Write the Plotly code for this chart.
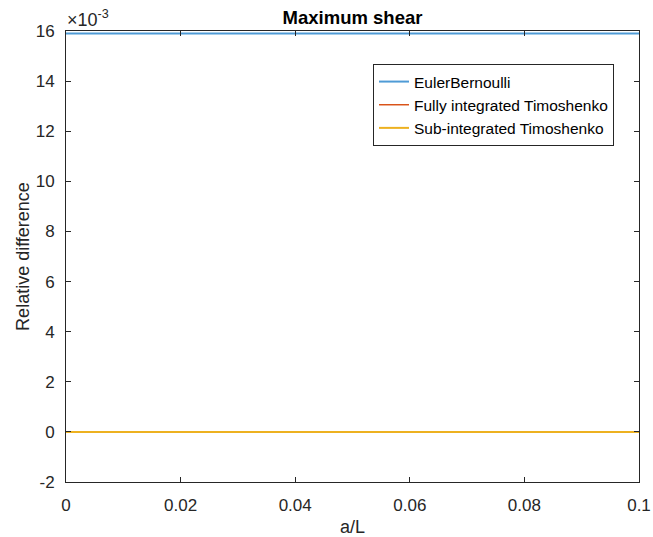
import plotly.graph_objects as go

# a/L values
a_over_L = [0.0, 0.01, 0.02, 0.03, 0.04, 0.05, 0.06, 0.07, 0.08, 0.09, 0.1]
# Relative difference series
euler_bernoulli = [0.0159, 0.0159, 0.0159, 0.0159, 0.0159, 0.0159, 0.0159, 0.0159, 0.0159, 0.0159, 0.0159]
fully_integrated = [0.0, 0.0, 0.0, 0.0, 0.0, 0.0, 0.0, 0.0, 0.0, 0.0, 0.0]
sub_integrated = [0.0, 0.0, 0.0, 0.0, 0.0, 0.0, 0.0, 0.0, 0.0, 0.0, 0.0]

y_tick_vals = [-0.002, 0.0, 0.002, 0.004, 0.006, 0.008, 0.010, 0.012, 0.014, 0.016]
y_tick_text = ["-2", "0", "2", "4", "6", "8", "10", "12", "14", "16"]
x_tick_vals = [0.0, 0.02, 0.04, 0.06, 0.08, 0.1]
x_tick_text = ["0", "0.02", "0.04", "0.06", "0.08", "0.1"]

FONT = "Liberation Sans, Arial, sans-serif"
AX = "#262626"

fig = go.Figure()
fig.add_trace(go.Scatter(x=a_over_L, y=euler_bernoulli, mode="lines",
                         name="EulerBernoulli", line=dict(color="#4f9bd6", width=2)))
fig.add_trace(go.Scatter(x=a_over_L, y=fully_integrated, mode="lines",
                         name="Fully integrated Timoshenko", line=dict(color="#D95319", width=1.5)))
fig.add_trace(go.Scatter(x=a_over_L, y=sub_integrated, mode="lines",
                         name="Sub-integrated Timoshenko", line=dict(color="#EDB120", width=2)))

fig.update_layout(
    width=653, height=537,
    margin=dict(l=66, r=14, t=31, b=55),
    paper_bgcolor="white", plot_bgcolor="white",
    font=dict(family=FONT, size=17, color=AX),
    title=dict(text="<b>Maximum shear</b>", x=(66 + 639) / 2 / 653, xanchor="center",
               y=1 - 18 / 537, yanchor="middle", yref="container",
               font=dict(size=18.5, color="black", family=FONT)),
    showlegend=True,
    legend=dict(x=(373 - 66) / 573, y=(482 - 64) / 451, xanchor="left", yanchor="top",
                bgcolor="white", bordercolor=AX, borderwidth=1,
                font=dict(size=15.5, color="black", family=FONT),
                tracegroupgap=0),
    xaxis=dict(range=[0, 0.1], tickvals=x_tick_vals, ticktext=x_tick_text,
               ticks="inside", ticklen=5, tickcolor=AX, showline=True, linecolor=AX,
               linewidth=1, mirror="ticks", showgrid=False, zeroline=False,
               ticklabelstandoff=8, automargin=False,
               title=dict(text="a/L", standoff=8, font=dict(size=18, color=AX))),
    yaxis=dict(range=[-0.002, 0.016], tickvals=y_tick_vals, ticktext=y_tick_text,
               ticks="inside", ticklen=5, tickcolor=AX, showline=True, linecolor=AX,
               linewidth=1, mirror="ticks", showgrid=False, zeroline=False,
               ticklabelstandoff=7, automargin=False,
               title=dict(text="Relative difference", standoff=1, font=dict(size=18, color=AX))),
    annotations=[dict(text="×10<sup>-3</sup>", xref="paper", yref="paper", x=0, y=1,
                      xanchor="left", yanchor="bottom", showarrow=False, xshift=-1, yshift=-1,
                      font=dict(size=18, color=AX, family=FONT))],
)

fig.write_html("out.html")
